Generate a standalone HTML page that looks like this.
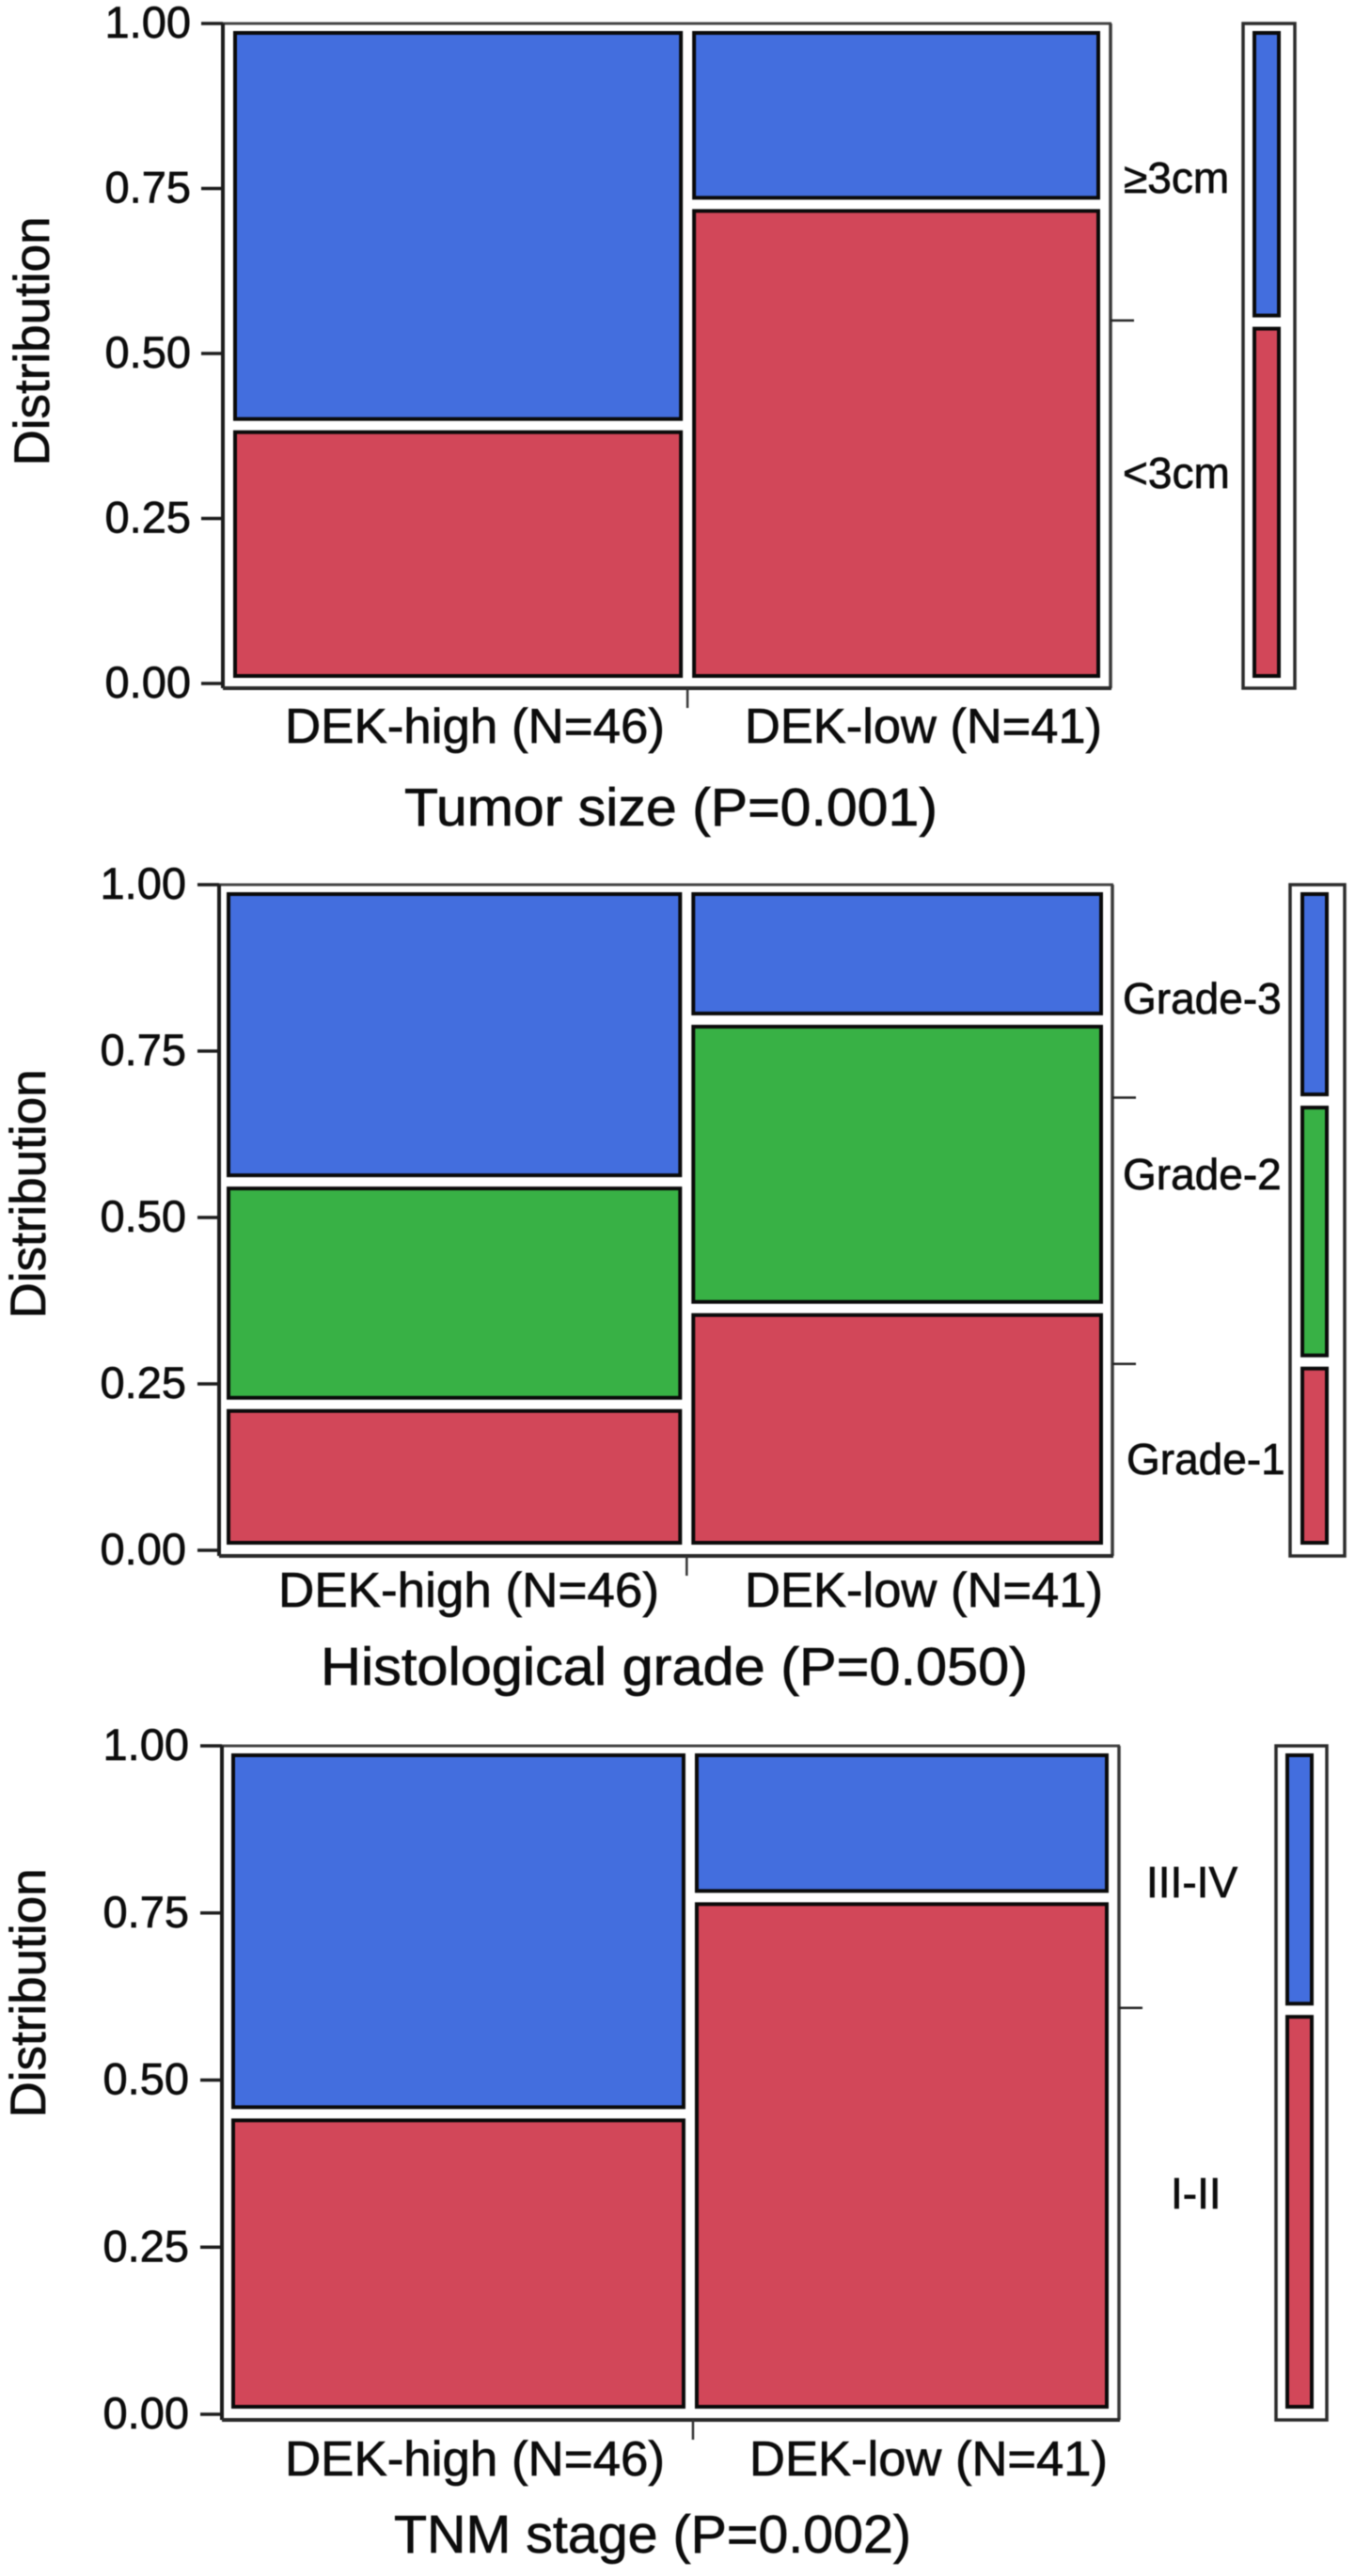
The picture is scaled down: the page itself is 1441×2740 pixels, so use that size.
<!DOCTYPE html>
<html lang="en">
<head>
<meta charset="utf-8">
<title>DEK expression mosaic plots</title>
<style>
html,body{margin:0;padding:0;background:#fff;}
svg{display:block;filter:blur(.55px);}
text{font-family:"Liberation Sans",sans-serif;fill:#0c0c0c;stroke:#0c0c0c;stroke-width:.7px;}
</style>
</head>
<body>
<svg id="figure" xmlns="http://www.w3.org/2000/svg" width="1441" height="2740" viewBox="0 0 1441 2740">
  <g id="panel-tumor"></g>
  <g id="panel-grade"></g>
  <g id="panel-tnm"></g>
</svg>
<script>
// ---- shared chart data ----
const yTickValues = [0, 0.25, 0.5, 0.75, 1];
const yTickLabels = ['0.00', '0.25', '0.50', '0.75', '1.00'];
const yAxisTitle = 'Distribution';
const groupLabels = ['DEK-high (N=46)', 'DEK-low (N=41)'];

// ---- tumor size ----
const tumorTitle = 'Tumor size (P=0.001)';
const tumorCategories = ['<3cm', '≥3cm'];
const tumorColumnShares = [0.524, 0.476];
const tumorHigh = [0.39, 0.61];
const tumorLow = [0.732, 0.268];
const tumorOverall = [0.55, 0.45];

// ---- histological grade ----
const gradeTitle = 'Histological grade (P=0.050)';
const gradeCategories = ['Grade-1', 'Grade-2', 'Grade-3'];
const gradeColumnShares = [0.525, 0.475];
const gradeHigh = [0.215, 0.341, 0.447];
const gradeLow = [0.362, 0.442, 0.196];
const gradeOverall = [0.28, 0.4, 0.32];

// ---- TNM stage ----
const tnmTitle = 'TNM stage (P=0.002)';
const tnmCategories = ['I-II', 'III-IV'];
const tnmColumnShares = [0.523, 0.477];
const tnmHigh = [0.45, 0.55];
const tnmLow = [0.78, 0.22];
const tnmOverall = [0.608, 0.392];

// ---- colours by category ----
const twoColours = ['#d24759', '#436ede'];
const threeColours = ['#d24759', '#38b145', '#436ede'];

const SVG_NS = 'http://www.w3.org/2000/svg';

function make(parent, tag, attrs) {
  const el = document.createElementNS(SVG_NS, tag);
  Object.keys(attrs).forEach(function (k) { el.setAttribute(k, attrs[k]); });
  parent.appendChild(el);
  return el;
}

function drawPanel(cfg) {
  const g = document.getElementById(cfg.id);
  const L = cfg.layout;
  const tickY = function (v) { return L.tickBottom - v * (L.tickBottom - L.tickTop); };
  const rectY = function (v) { return L.rectBottom - v * (L.rectBottom - L.rectTop); };
  const rectX = function (s) { return L.rectLeft + s * (L.rectRight - L.rectLeft); };
  const GAP = 5;
  const SW = 4;

  // Stacked column helper
  function stack(values, x0, x1, colours, prefix) {
    let cum = 0;
    values.forEach(function (v, i) {
      const bottomEdge = rectY(cum) - (i === 0 ? 0 : GAP);
      cum += v;
      const topEdge = i === values.length - 1 ? L.rectTop : rectY(cum) + GAP;
      const r = make(g, 'rect', {
        x: x0 + SW / 2, y: topEdge + SW / 2,
        width: x1 - x0 - SW, height: bottomEdge - topEdge - SW,
        fill: colours[i], stroke: '#0a0a0a', 'stroke-width': SW
      });
      
      
    });
  }

  // Main frame
  const frameTop = make(g, 'line', { x1: L.frameLeft, x2: L.frameRight + 1, y1: L.frameTop, y2: L.frameTop, stroke: '#444', 'stroke-width': 3 });
  
  
  const frameRight = make(g, 'line', { x1: L.frameRight, x2: L.frameRight, y1: L.frameTop, y2: L.frameBottom, stroke: '#3a3a3a', 'stroke-width': 3.5 });
  
  
  const frameLeft = make(g, 'line', { x1: L.frameLeft, x2: L.frameLeft, y1: L.frameTop, y2: L.frameBottom, stroke: '#1c1c1c', 'stroke-width': 4 });
  
  
  const frameBottom = make(g, 'line', { x1: L.frameLeft, x2: L.frameRight + 1, y1: L.frameBottom, y2: L.frameBottom, stroke: '#2a2a2a', 'stroke-width': 4 });
  
  

  // Y ticks and labels
  yTickValues.forEach(function (v, i) {
    const y = tickY(v);
    const t = make(g, 'line', { x1: L.frameLeft - 23, x2: L.frameLeft, y1: y, y2: y, stroke: '#1c1c1c', 'stroke-width': 3.5 });
    
    
    const lab = make(g, 'text', { x: L.tickLabelRight, y: y + 15, 'text-anchor': 'end', 'font-size': 47 });
    lab.textContent = yTickLabels[i];
    
    
  });

  // Y axis title
  const yt = make(g, 'text', {
    transform: 'translate(' + L.yTitleX + ' ' + L.yTitleY + ') rotate(-90)',
    'text-anchor': 'middle', 'font-size': 53
  });
  yt.textContent = yAxisTitle;
  
  

  // Mosaic columns
  const split = cfg.shares[0];
  stack(cfg.high, rectX(0), rectX(split) - GAP, cfg.colours, 'dek-high');
  stack(cfg.low, rectX(split) + GAP, rectX(cfg.shares[0] + cfg.shares[1]), cfg.colours, 'dek-low');

  // X tick between groups
  const xt = make(g, 'line', { x1: rectX(split) + L.xTickShift, x2: rectX(split) + L.xTickShift, y1: L.frameBottom, y2: L.frameBottom + 21, stroke: '#333', 'stroke-width': 2.5 });
  
  

  // Group labels
  const hl = make(g, 'text', { x: L.highLabelX, y: L.groupBaseline, 'font-size': 52, textLength: L.highLabelW, lengthAdjust: 'spacingAndGlyphs' });
  hl.textContent = groupLabels[0];
  
  
  const ll = make(g, 'text', { x: L.lowLabelX, y: L.groupBaseline, 'font-size': 52, textLength: L.lowLabelW, lengthAdjust: 'spacingAndGlyphs' });
  ll.textContent = groupLabels[1];
  
  

  // Panel title
  const ti = make(g, 'text', { x: L.titleX, y: L.titleBaseline, 'font-size': 57, textLength: L.titleW, lengthAdjust: 'spacingAndGlyphs' });
  ti.textContent = cfg.title;
  
  

  // Marginal frame
  const mf = make(g, 'rect', {
    x: L.margLeft, y: L.frameTop, width: L.margRight - L.margLeft, height: L.frameBottom - L.frameTop,
    fill: 'none', stroke: '#2c2c2c', 'stroke-width': 3.5
  });
  
  

  // Marginal stacked bar
  stack(cfg.overall, L.margBarLeft, L.margBarRight, cfg.colours, 'marginal');

  // Right-side category ticks and labels
  let cum = 0;
  cfg.overall.forEach(function (v, i) {
    if (i > 0) {
      const y = tickY(cum);
      const rt = make(g, 'line', { x1: L.frameRight, x2: L.frameRight + 25, y1: y, y2: y, stroke: '#222', 'stroke-width': 2.5 });
      
      
    }
    cum += v;
    const cl = make(g, 'text', { x: L.catX[i], y: L.catBaseline[i], 'font-size': 46 });
    cl.textContent = cfg.categories[i];
    
    
  });
}

drawPanel({
  id: 'panel-tumor', title: tumorTitle, categories: tumorCategories, colours: twoColours,
  shares: tumorColumnShares, high: tumorHigh, low: tumorLow, overall: tumorOverall,
  layout: {
    frameLeft: 237, frameRight: 1181, frameTop: 25, frameBottom: 732,
    tickTop: 25, tickBottom: 727, rectLeft: 248, rectRight: 1170, rectTop: 33, rectBottom: 721,
    tickLabelRight: 203, yTitleX: 52, yTitleY: 363, xTickShift: 0,
    highLabelX: 303, highLabelW: 404, lowLabelX: 792, lowLabelW: 380, groupBaseline: 790,
    titleX: 430, titleW: 567, titleBaseline: 878,
    margLeft: 1322, margRight: 1377, margBarLeft: 1332, margBarRight: 1362,
    catX: [1194, 1195], catBaseline: [519, 205]
  }
});

drawPanel({
  id: 'panel-grade', title: gradeTitle, categories: gradeCategories, colours: threeColours,
  shares: gradeColumnShares, high: gradeHigh, low: gradeLow, overall: gradeOverall,
  layout: {
    frameLeft: 233, frameRight: 1183, frameTop: 941, frameBottom: 1655,
    tickTop: 941, tickBottom: 1649, rectLeft: 241, rectRight: 1173, rectTop: 949, rectBottom: 1643,
    tickLabelRight: 198, yTitleX: 48, yTitleY: 1270, xTickShift: 0,
    highLabelX: 296, highLabelW: 405, lowLabelX: 792, lowLabelW: 381, groupBaseline: 1709,
    titleX: 341, titleW: 752, titleBaseline: 1792,
    margLeft: 1372, margRight: 1430, margBarLeft: 1383, margBarRight: 1413,
    catX: [1198, 1194, 1194], catBaseline: [1568, 1265, 1078]
  }
});

drawPanel({
  id: 'panel-tnm', title: tnmTitle, categories: tnmCategories, colours: twoColours,
  shares: tnmColumnShares, high: tnmHigh, low: tnmLow, overall: tnmOverall,
  layout: {
    frameLeft: 236, frameRight: 1190, frameTop: 1857, frameBottom: 2574,
    tickTop: 1857, tickBottom: 2568, rectLeft: 246, rectRight: 1179, rectTop: 1865, rectBottom: 2562,
    tickLabelRight: 201, yTitleX: 48, yTitleY: 2120, xTickShift: 3,
    highLabelX: 303, highLabelW: 404, lowLabelX: 797, lowLabelW: 381, groupBaseline: 2633,
    titleX: 419, titleW: 550, titleBaseline: 2715,
    margLeft: 1357, margRight: 1411, margBarLeft: 1367, margBarRight: 1397,
    catX: [1245, 1219], catBaseline: [2349, 2018]
  }
});
</script>
</body>
</html>
